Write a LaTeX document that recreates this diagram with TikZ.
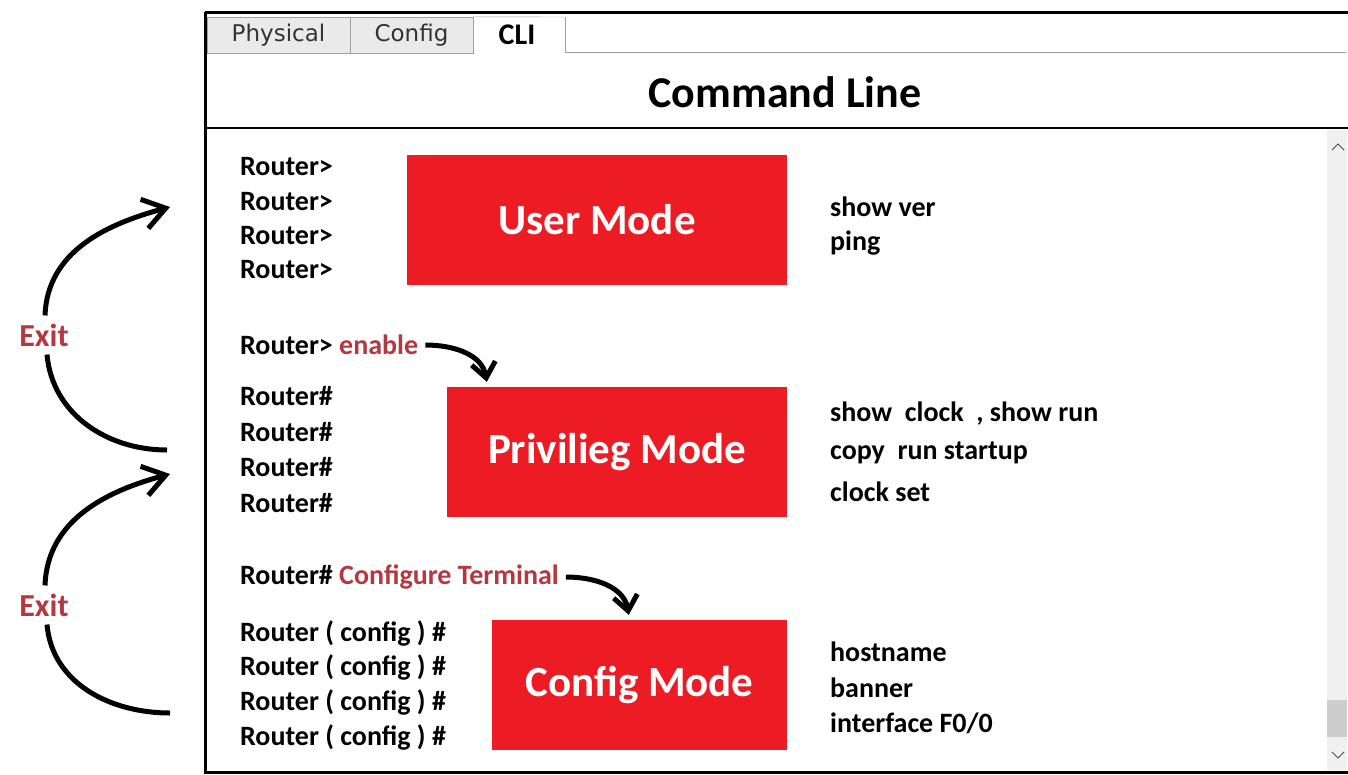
\documentclass[tikz,border=0pt]{standalone}
\usepackage{fontspec}
\setmainfont{Carlito}
\newfontfamily\tabfont{DejaVu Sans}
\usetikzlibrary{arrows.meta}
\definecolor{modered}{RGB}{237,28,36}
\definecolor{cmdred}{RGB}{180,56,64}
\definecolor{tabgray}{RGB}{234,234,234}
\definecolor{tabline}{RGB}{160,160,160}
\definecolor{scrollgray}{RGB}{240,240,240}
\definecolor{thumbgray}{RGB}{205,205,205}

\begin{document}
\begin{tikzpicture}[x=1pt,y=-1pt,
    prompt/.style={anchor=west,inner sep=0pt,font=\bfseries\fontsize{28}{32}\selectfont},
    modebox/.style={fill=modered,text=white,minimum height=130pt,inner sep=0pt,font=\bfseries\fontsize{43}{47}\selectfont},
    tab/.style={draw=tabline,fill=tabgray,minimum height=36pt,inner sep=0pt,font=\tabfont\fontsize{23}{26}\selectfont,text=black!80},
    exitlabel/.style={text=cmdred,inner sep=8pt,font=\bfseries\fontsize{32}{36}\selectfont},
    exitarc/.style={line width=5pt,-{Straight Barb[length=22pt,width=30pt]}},
    exitend/.style={line width=5pt},
    modearrow/.style={line width=5pt,-{Straight Barb[length=15pt,width=24pt]}}]
    \useasboundingbox (0,0) rectangle (1348,774);
    \fill[white] (0,0) rectangle (1348,774);

    %window
    \draw[line width=3pt] (205,12) -- (1348,12);
    \draw[line width=3pt] (205,12) -- (205,772) -- (1348,772);
    \fill[scrollgray] (1327,130) rectangle (1347,770);
    \fill[thumbgray] (1327,700) rectangle (1347,737);
    \draw[thick,black!70] (1332,150) -- (1338,144) -- (1344,150);
    \draw[thick,black!70] (1332,752) -- (1338,758) -- (1344,752);
    \draw[tabline] (565,52) -- (1346,52);
    \draw[tabline] (565,17) -- (565,52);
    \node[tab,minimum width=143pt] (phys) at (278.5,35) {Physical};
    \node[tab,minimum width=123pt] (conf) at (411.5,35) {Config};
    \node[font=\bfseries\fontsize{30}{34}\selectfont] (cli) at (517,35) {CLI};
    \draw[tabline] (conf.north east) -- (565,17);
    \node[font=\bfseries\fontsize{44}{48}\selectfont] (head) at (785,92) {Command Line};
    \draw[line width=2.5pt] (205,128) -- (1348,128);

    %User Mode
    \foreach \y [count=\i] in {167,202,236,270}
        \node[prompt] (u\i) at (240,\y) {Router>};
    \node[modebox,minimum width=380pt] (um) at (597,220) {User Mode};
    \node[prompt] (uc1) at (830,207) {show ver};
    \node[prompt] (uc2) at (830,243) {ping};

    %Privilieg Mode
    \node[prompt] (en) at (240,345) {Router> \textcolor{cmdred}{enable}};
    \foreach \y [count=\i] in {396,432,467,503}
        \node[prompt] (p\i) at (240,\y) {Router\#};
    \node[modebox,minimum width=340pt] (pm) at (617,452) {Privilieg Mode};
    \node[prompt] (pc1) at (830,414) {show\ \ clock\ \ , show run};
    \node[prompt] (pc2) at (830,453) {copy\ \ run startup};
    \node[prompt] (pc3) at (830,492) {clock set};
    \draw[modearrow] ([xshift=7pt]en.east) to[out=0,in=100] ([shift={(40,-5)}]pm.north west);

    %Config Mode
    \node[prompt] (ct) at (240,577) {Router\# \textcolor{cmdred}{Configure Terminal}};
    \foreach \y [count=\i] in {633,667,702,737}
        \node[prompt] (c\i) at (240,\y) {Router ( config ) \#};
    \node[modebox,minimum width=295pt] (cm) at (639.5,685) {Config Mode};
    \node[prompt] (cc1) at (830,652) {hostname};
    \node[prompt] (cc2) at (830,688) {banner};
    \node[prompt] (cc3) at (830,723) {interface F0/0};
    \draw[modearrow] ([xshift=7pt]ct.east) to[out=0,in=100] ([shift={(137,-5)}]cm.north west);

    %Exit arcs
    \node[exitlabel] (x1) at (44,335) {Exit};
    \node[exitlabel] (x2) at (44,605) {Exit};
    \coordinate (x1top) at (170,207);
    \coordinate (x1bot) at (167,450);
    \coordinate (x2top) at (170,474);
    \coordinate (x2bot) at (170,713);
    \draw[exitarc] ([xshift=1pt]x1.north) to[out=88,in=195] (x1top);
    \draw[exitend] ([xshift=3pt]x1.south) to[out=-85,in=180] (x1bot);
    \draw[exitarc] ([xshift=1pt]x2.north) to[out=88,in=195] (x2top);
    \draw[exitend] ([xshift=3pt]x2.south) to[out=-85,in=180] (x2bot);
\end{tikzpicture}
\end{document}
